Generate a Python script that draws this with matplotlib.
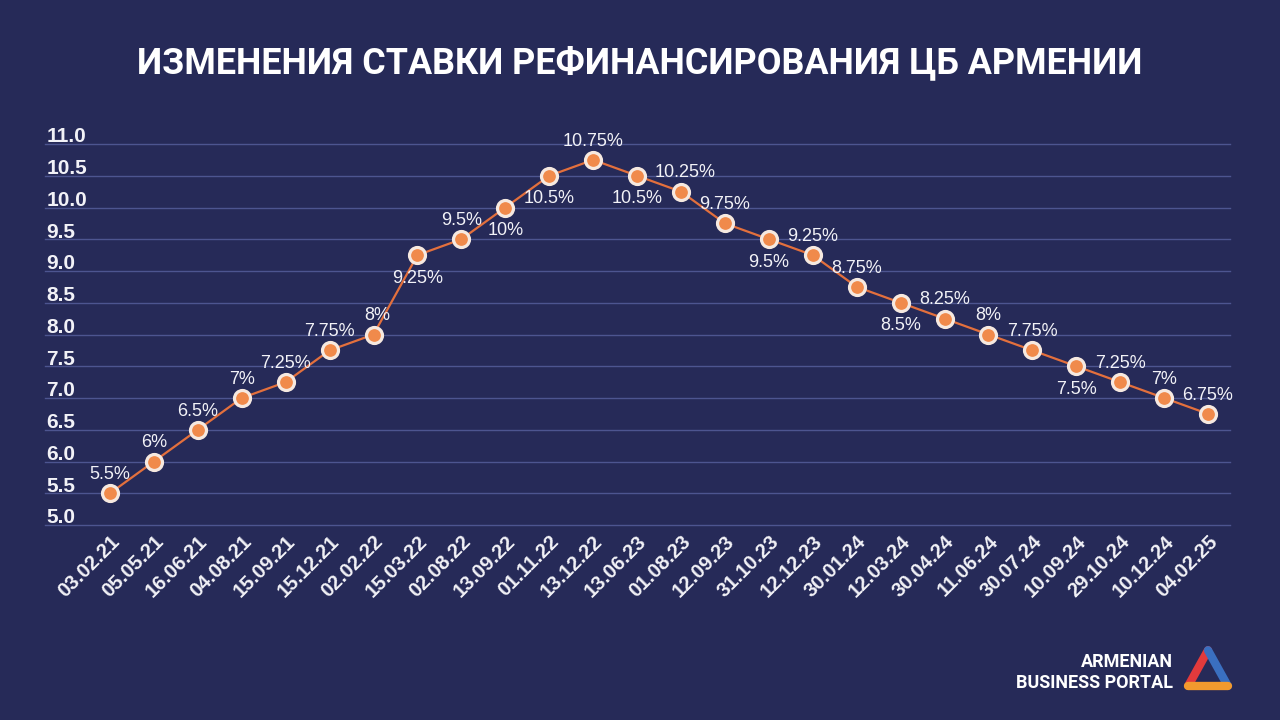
import matplotlib
matplotlib.use("Agg")
import matplotlib.pyplot as plt
from matplotlib.transforms import blended_transform_factory

dates = ["03.02.21", "05.05.21", "16.06.21", "04.08.21", "15.09.21", "15.12.21",
         "02.02.22", "15.03.22", "02.08.22", "13.09.22", "01.11.22", "13.12.22",
         "13.06.23", "01.08.23", "12.09.23", "31.10.23", "12.12.23", "30.01.24",
         "12.03.24", "30.04.24", "11.06.24", "30.07.24", "10.09.24", "29.10.24",
         "10.12.24", "04.02.25"]
rates = [5.5, 6, 6.5, 7, 7.25, 7.75, 8, 9.25, 9.5, 10, 10.5, 10.75, 10.5, 10.25,
         9.75, 9.5, 9.25, 8.75, 8.5, 8.25, 8, 7.75, 7.5, 7.25, 7, 6.75]
rate_labels = ["5.5%", "6%", "6.5%", "7%", "7.25%", "7.75%", "8%", "9.25%", "9.5%",
               "10%", "10.5%", "10.75%", "10.5%", "10.25%", "9.75%", "9.5%", "9.25%",
               "8.75%", "8.5%", "8.25%", "8%", "7.75%", "7.5%", "7.25%", "7%", "6.75%"]
y_ticks = [5.0, 5.5, 6.0, 6.5, 7.0, 7.5, 8.0, 8.5, 9.0, 9.5, 10.0, 10.5, 11.0]

# label placement: a = above, b = below
label_side = ["a", "a", "a", "a", "a", "a", "a", "b", "a", "b", "b", "a", "b", "a",
              "a", "b", "a", "a", "b", "a", "a", "a", "b", "a", "a", "a"]
label_dx = {6: 4, 13: 4}

BG = "#262a58"
GRID = "#4d5590"
LINE = "#e3703d"
DOT = "#f08a4b"
EDGE = "#f6e9e0"
TXT = "#f2f2f7"

fig = plt.figure(figsize=(12.8, 7.2), dpi=100, facecolor=BG)
ax = fig.add_axes([45 / 1280, 1 - 525 / 720, (1230 - 45) / 1280, (525 - 144) / 720])
ax.set_facecolor(BG)

x = list(range(len(rates)))
ax.plot(x, rates, color=LINE, lw=1.6, zorder=3)
ax.plot(x, rates, "o", ms=11.5, mfc=DOT, mec=EDGE, mew=2.3, zorder=4, clip_on=False)

ax.set_xlim(-1.48, 25.5)
ax.set_ylim(5.0, 11.0)

for yv in y_ticks:
    ax.axhline(yv, color=GRID, lw=1.0, zorder=1, clip_on=False)

trans = blended_transform_factory(ax.transAxes, ax.transData)
for yv in y_ticks:
    ax.annotate(f"{yv:.1f}", (0.001, yv), xycoords=trans, xytext=(0, 1.2),
                textcoords="offset points", ha="left", va="baseline",
                color=TXT, fontsize=15, fontweight="bold", family="Liberation Sans")

for i, (v, lab) in enumerate(zip(rates, rate_labels)):
    dx = label_dx.get(i, 0) * 0.72
    dy = 13.5 if label_side[i] == "a" else -16.5
    ax.annotate(lab, (i, v), xytext=(dx, dy), textcoords="offset points",
                ha="center", va="center", color=TXT, fontsize=13,
                family="Liberation Sans", zorder=5)

ax.set_xticks(x)
ax.set_xticklabels(dates, rotation=45, ha="right", rotation_mode="anchor",
                   fontsize=14.5, fontweight="bold", color=TXT, family="Liberation Sans")
ax.tick_params(axis="x", length=0, pad=5)
ax.set_yticks([])
for s in ax.spines.values():
    s.set_visible(False)

fig.text(0.5, 1 - 63 / 720, "ИЗМЕНЕНИЯ СТАВКИ РЕФИНАНСИРОВАНИЯ ЦБ АРМЕНИИ",
         ha="center", va="center", color="white", fontsize=25.8, fontweight="bold",
         family="Roboto")

# logo
fig.text(1173 / 1280, 1 - 662 / 720, "ARMENIAN", ha="right", va="center",
         color="white", fontsize=13, fontweight="bold", family="Roboto")
fig.text(1173 / 1280, 1 - 683 / 720, "BUSINESS PORTAL", ha="right", va="center",
         color="white", fontsize=13, fontweight="bold", family="Roboto")
lax = fig.add_axes([1180 / 1280, 1 - 696 / 720, 56 / 1280, 52 / 720])
lax.set_xlim(0, 1)
lax.set_ylim(0, 1)
lax.axis("off")
top, left, right = (0.5, 0.88), (0.15, 0.2), (0.85, 0.2)
lax.plot([left[0], top[0]], [left[1], top[1]], color="#e23a3c", lw=6, solid_capstyle="round")
lax.plot([top[0], right[0]], [top[1], right[1]], color="#3a6fc0", lw=6, solid_capstyle="round")
lax.plot([left[0], right[0]], [left[1], right[1]], color="#f29a2e", lw=6, solid_capstyle="round")

fig.savefig("out.png", dpi=100, facecolor=BG)
